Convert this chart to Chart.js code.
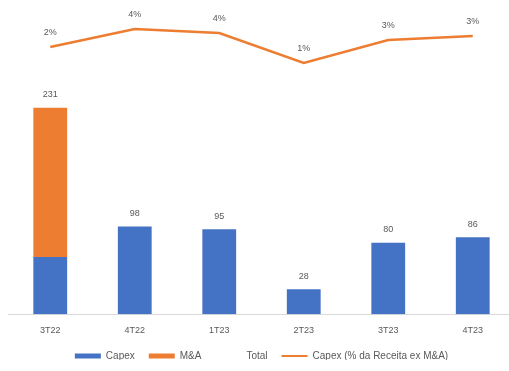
<!DOCTYPE html>
<html>
<head>
<meta charset="utf-8">
<script src="https://cdn.jsdelivr.net/npm/chart.js@4"></script>
<style>
  html, body { margin: 0; padding: 0; background: #fff; overflow: hidden; }
  #wrap { width: 522px; height: 371px; }
</style>
</head>
<body>
<div id="wrap"><canvas id="capexChart" width="522" height="371"></canvas></div>
<script>
// dados
const categorias = ['3T22', '4T22', '1T23', '2T23', '3T23', '4T23'];
const capex = [64, 98, 95, 28, 80, 86];
const mna = [167, 0, 0, 0, 0, 0];
const totais = [231, 98, 95, 28, 80, 86];
const capexPct = [2.2, 4.0, 3.6, 0.6, 2.9, 3.3];

const azul = '#4472C4';
const laranja = '#ED7D31';
const cinza = '#595959';
const fonte = "'Liberation Sans', Arial, sans-serif";

// rótulos dos totais e das porcentagens
const rotulos = {
    id: 'rotulos',
    afterDatasetsDraw(chart) {
        const ctx = chart.ctx;
        const x = chart.scales.x;
        const y = chart.scales.y;
        const y1 = chart.scales.y1;
        ctx.save();
        ctx.font = '9px ' + fonte;
        ctx.fillStyle = cinza;
        ctx.textAlign = 'center';
        ctx.textBaseline = 'middle';
        categorias.forEach((c, i) => {
            const px = x.getPixelForValue(i);
            ctx.fillText(String(totais[i]), px, y.getPixelForValue(totais[i]) - 13);
            ctx.fillText(Math.round(capexPct[i]) + '%', px, y1.getPixelForValue(capexPct[i]) - 14);
        });
        ctx.restore();
    }
};

// legenda mais baixa e mais perto do eixo, sem mudar o espaçamento entre os itens
const legendaCompacta = {
    id: 'legendaCompacta',
    beforeInit(chart) {
        const legenda = chart.legend;
        const fitOriginal = legenda.fit;
        const drawOriginal = legenda.draw;
        legenda.fit = function () {
            fitOriginal.bind(legenda)();
            this.height -= 11;
        };
        legenda.draw = function () {
            chart.ctx.save();
            chart.ctx.translate(0, -10);
            drawOriginal.bind(legenda)();
            chart.ctx.restore();
        };
    }
};

const ctx = document.getElementById('capexChart').getContext('2d');
new Chart(ctx, {
    data: {
        labels: categorias,
        datasets: [{
            type: 'bar',
            label: 'Capex',
            data: capex,
            backgroundColor: azul,
            yAxisID: 'y',
            stack: 'barras',
            barPercentage: 0.4,
            categoryPercentage: 1,
            order: 2
        }, {
            type: 'bar',
            label: 'M&A',
            data: mna,
            backgroundColor: laranja,
            yAxisID: 'y',
            stack: 'barras',
            barPercentage: 0.4,
            categoryPercentage: 1,
            order: 2
        }, {
            type: 'line',
            label: 'Total',
            data: totais,
            yAxisID: 'y',
            stack: 'total',
            showLine: false,
            pointRadius: 0,
            borderColor: 'rgba(0,0,0,0)',
            backgroundColor: 'rgba(0,0,0,0)',
            order: 1
        }, {
            type: 'line',
            label: 'Capex (% da Receita ex M&A)',
            data: capexPct,
            yAxisID: 'y1',
            borderColor: laranja,
            backgroundColor: laranja,
            borderWidth: 2.5,
            pointRadius: 0,
            tension: 0,
            order: 0
        }]
    },
    options: {
        responsive: false,
        animation: false,
        layout: { padding: { top: 20, left: 8, right: 7, bottom: 1 } },
        plugins: {
            tooltip: { enabled: false },
            legend: {
                position: 'bottom',
                labels: {
                    color: cinza,
                    font: { size: 10, family: fonte },
                    usePointStyle: true,
                    pointStyleWidth: 26,
                    boxHeight: 5,
                    padding: 14,
                    generateLabels(chart) {
                        return chart.data.datasets.map((ds, i) => {
                            const linha = ds.type === 'line' && ds.label !== 'Total';
                            const cor = ds.label === 'Total' ? 'rgba(0,0,0,0)' : ds.backgroundColor;
                            return {
                                text: ds.label,
                                fillStyle: cor,
                                strokeStyle: cor,
                                lineWidth: linha ? 2 : 0,
                                pointStyle: linha ? 'line' : 'rect',
                                fontColor: cinza,
                                hidden: false,
                                datasetIndex: i
                            };
                        });
                    }
                }
            }
        },
        scales: {
            x: {
                grid: { display: false, drawTicks: false },
                border: { color: '#D9D9D9' },
                ticks: { color: cinza, font: { size: 9, family: fonte }, padding: 11 }
            },
            y: {
                display: false,
                stacked: true,
                min: 0,
                max: 329
            },
            y1: {
                display: false,
                min: -24.6,
                max: 4.9
            }
        }
    },
    plugins: [rotulos, legendaCompacta]
});
</script>
</body>
</html>
